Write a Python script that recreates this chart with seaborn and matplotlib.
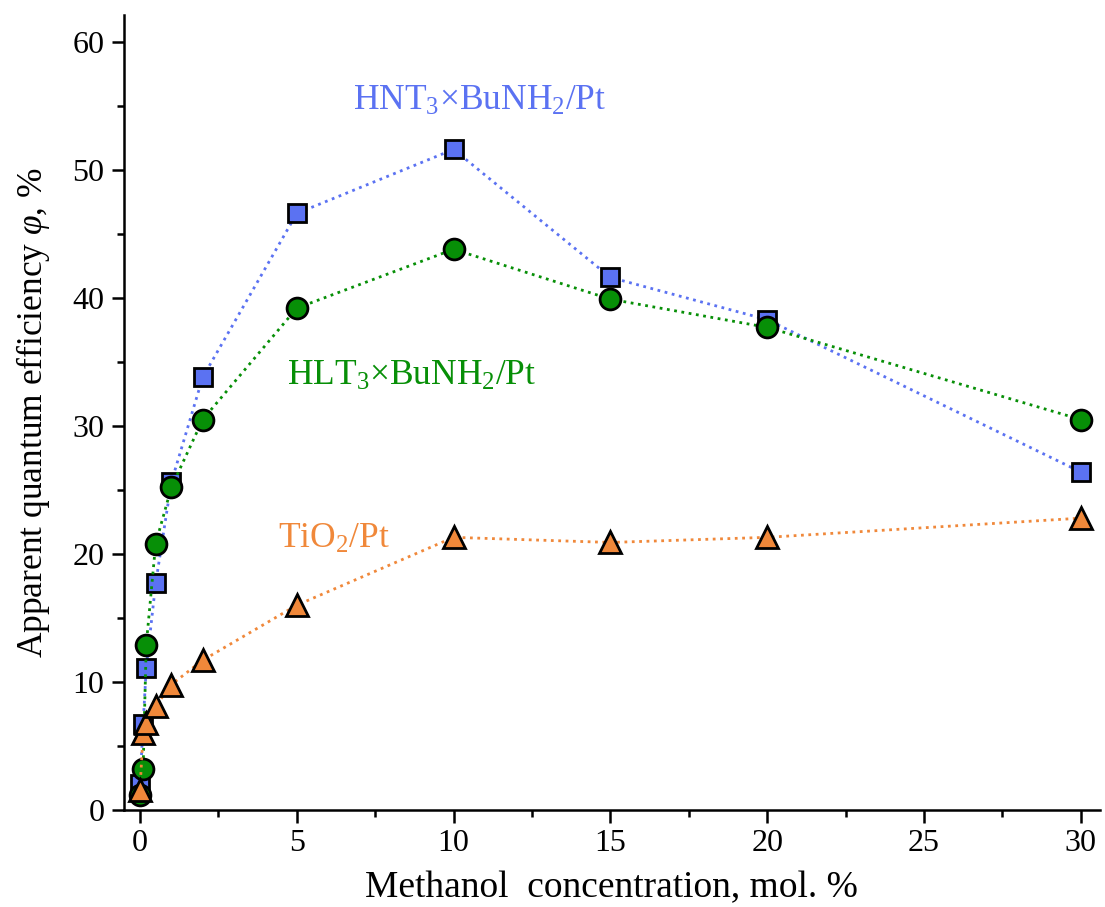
import matplotlib
matplotlib.use("Agg")
import matplotlib.pyplot as plt
import seaborn as sns
import pandas as pd
from matplotlib.ticker import MultipleLocator

sns.set_theme(style="ticks")
plt.rcParams['font.family'] = ['Liberation Serif', 'DejaVu Serif']
plt.rcParams['mathtext.fontset'] = 'custom'
plt.rcParams['mathtext.rm'] = 'Liberation Serif'
plt.rcParams['mathtext.it'] = 'Liberation Serif:italic'

methanol = [0, 0.1, 0.2, 0.5, 1, 2, 5, 10, 15, 20, 30]
hnt = [2.0, 6.7, 11.1, 17.7, 25.6, 33.8, 46.6, 51.6, 41.6, 38.3, 26.4]
hlt = [1.2, 3.2, 12.9, 20.8, 25.2, 30.5, 39.2, 43.8, 39.9, 37.7, 30.5]
tio2 = [1.6, 6.0, 6.8, 8.1, 9.8, 11.7, 16.0, 21.3, 20.9, 21.3, 22.8]
tio2_x = [0, 0.1, 0.2, 0.5, 1, 2, 5, 10, 15, 20, 30]

c_blue = "#5b72f2"
c_green = "#078f07"
c_orange = "#f0883a"

fig = plt.figure(figsize=(11.05, 9.07), dpi=100)
ax = fig.add_axes([0.1122, 0.1069, 0.883, 0.8766])

series = [
    (methanol, hnt, c_blue, 's', 13),
    (methanol, hlt, c_green, 'o', 15),
    (tio2_x, tio2, c_orange, '^', 16.5),
]
for xs, ys, col, mk, ms in series:
    df = pd.DataFrame({'x': xs, 'y': ys})
    sns.lineplot(data=df, x='x', y='y', ax=ax, color=col, linestyle=':',
                 linewidth=2, marker=mk, markersize=ms, markerfacecolor=col,
                 markeredgecolor='black', markeredgewidth=2, sort=False,
                 errorbar=None)

ax.set_xlim(-0.51, 30.6)
ax.set_ylim(0, 62.1)
ax.xaxis.set_minor_locator(MultipleLocator(2.5))
ax.yaxis.set_minor_locator(MultipleLocator(5))
ax.set_xticks([0, 5, 10, 15, 20, 25, 30])
ax.set_yticks([0, 10, 20, 30, 40, 50, 60])

for s in ['top', 'right']:
    ax.spines[s].set_visible(False)
for s in ['left', 'bottom']:
    ax.spines[s].set_linewidth(1.8)
    ax.spines[s].set_color('black')
ax.tick_params(which='major', direction='out', length=9, width=1.8,
               labelsize=23, colors='black', pad=5)
ax.tick_params(which='minor', direction='out', length=5, width=1.8, colors='black')

ax.set_xlabel('Methanol  concentration, mol. %', fontsize=27, labelpad=9, color='black')
ax.set_ylabel(r'Apparent quantum efficiency $\mathit{φ}$, %', fontsize=25.5, labelpad=15, color='black')

ax.text(6.79, 54.7, r'HNT$_3$×BuNH$_2$/Pt', color=c_blue, fontsize=25.5, va='baseline', ha='left')
ax.text(4.69, 33.2, r'HLT$_3$×BuNH$_2$/Pt', color=c_green, fontsize=25.5, va='baseline', ha='left')
ax.text(4.40, 20.5, r'TiO$_2$/Pt', color=c_orange, fontsize=25.5, va='baseline', ha='left')

fig.savefig('out.png', dpi=100)
